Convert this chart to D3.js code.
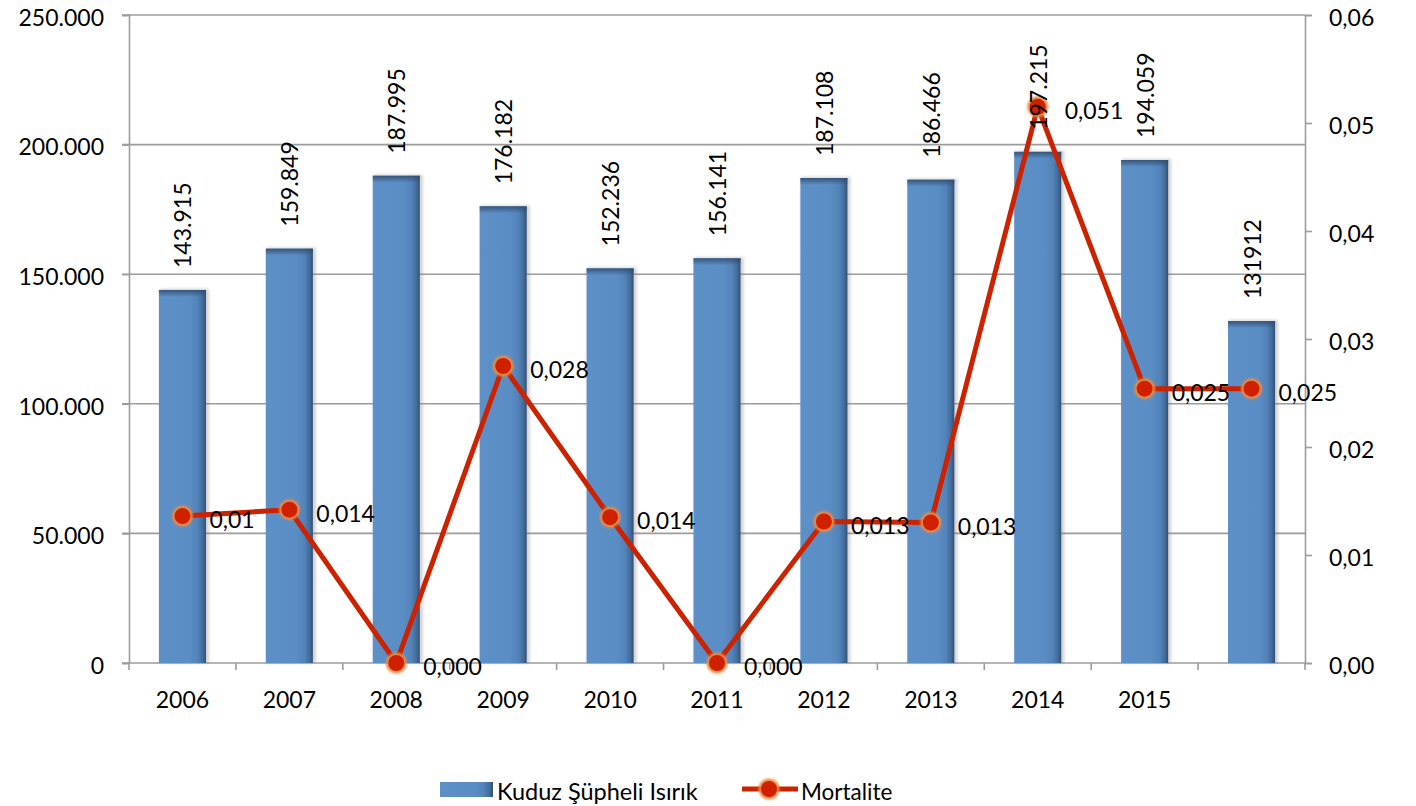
<!DOCTYPE html>
<html><head><meta charset="utf-8">
<script src="https://cdn.jsdelivr.net/npm/d3@7"></script>
<style>
html,body{margin:0;padding:0;background:#fff;}
svg{display:block;}
text{font-family:Lato,"Open Sans",sans-serif;fill:#000;}
</style></head>
<body>
<svg id="chart" width="1416" height="806"></svg>
<script>
const years = ["2006","2007","2008","2009","2010","2011","2012","2013","2014","2015",""];
const bites = [143915,159849,187995,176182,152236,156141,187108,186466,197215,194059,131912];
const biteLabels = ["143.915","159.849","187.995","176.182","152.236","156.141","187.108","186.466","197.215","194.059","131912"];
const mortality = [0.0136,0.0142,0,0.0275,0.0135,0,0.0131,0.0130,0.0515,0.0254,0.0254];
const mortLabels = ["0,01","0,014","0,000","0,028","0,014","0,000","0,013","0,013","0,051","0,025","0,025"];
const leftTicks = [0,50000,100000,150000,200000,250000];
const leftTickLabels = ["0","50.000","100.000","150.000","200.000","250.000"];
const rightTicks = [0,0.01,0.02,0.03,0.04,0.05,0.06];
const rightTickLabels = ["0,00","0,01","0,02","0,03","0,04","0,05","0,06"];
const seriesNames = ["Kuduz Şüpheli Isırık","Mortalite"];

const svg = d3.select("#chart");
const L = 129, R = 1305, T = 15, B = 663;
const idx = years.map((d,i)=>i);
const x = d3.scaleBand().domain(idx).range([L,R]).paddingInner(0.56).paddingOuter(0.28);
const step = x.step();
const yL = d3.scaleLinear().domain([0,250000]).range([B,T]);
const yR = d3.scaleLinear().domain([0,0.06]).range([B,T]);
const grid = "#9c9c9c";

const defs = svg.append("defs");
const gH = defs.append("linearGradient").attr("id","barH").attr("x1","0").attr("x2","1").attr("y1","0").attr("y2","0");
[["0%","#5d90c7"],["65%","#5b8dc5"],["82%","#5283b9"],["93%","#426c9b"],["100%","#334f72"]].forEach(s=>gH.append("stop").attr("offset",s[0]).attr("stop-color",s[1]));
const gV = defs.append("linearGradient").attr("id","barV").attr("x1","0").attr("x2","0").attr("y1","0").attr("y2","1");
[["0%","#2f4b6d",0.85],["100%","#2f4b6d",0]].forEach(s=>gV.append("stop").attr("offset",s[0]).attr("stop-color",s[1]).attr("stop-opacity",s[2]));
const fGlow = defs.append("filter").attr("id","glow").attr("x","-50%").attr("y","-50%").attr("width","200%").attr("height","200%");
fGlow.append("feGaussianBlur").attr("stdDeviation",1.2);
const fSh = defs.append("filter").attr("id","shadow").attr("x","-20%").attr("y","-5%").attr("width","140%").attr("height","110%");
fSh.append("feGaussianBlur").attr("stdDeviation",1.5);

// gridlines
svg.append("g").selectAll("line").data(leftTicks.filter(d=>d>0)).join("line")
  .attr("x1",L-7).attr("x2",R).attr("y1",d=>yL(d)).attr("y2",d=>yL(d))
  .attr("stroke",grid).attr("stroke-width",1.6);

const FS = "23px";
// left axis
const axL = svg.append("g").attr("transform",`translate(${L},0)`)
  .call(d3.axisLeft(yL).tickValues(leftTicks).tickFormat((d,i)=>leftTickLabels[i]).tickSize(7).tickPadding(18));
// right axis
const axR = svg.append("g").attr("transform",`translate(${R},0)`)
  .call(d3.axisRight(yR).tickValues(rightTicks).tickFormat((d,i)=>rightTickLabels[i]).tickSize(7).tickPadding(17));
// bottom axis
const axB = svg.append("g").attr("transform",`translate(0,${B})`)
  .call(d3.axisBottom(x).tickFormat(i=>years[i]).tickSize(0).tickPadding(36));
axB.select(".domain").attr("d",`M${L-7},0H${R}`);
// category boundary ticks
axB.append("g").selectAll("line").data(d3.range(0,years.length+1)).join("line")
  .attr("x1",i=>L+i*step).attr("x2",i=>L+i*step)
  .attr("y1",0).attr("y2",7).attr("stroke",grid).attr("stroke-width",1.6);

[axL,axR,axB].forEach(a=>{
  a.selectAll(".domain").attr("stroke",grid).attr("stroke-width",1.6);
  a.selectAll(".tick line").attr("stroke",grid).attr("stroke-width",1.6);
  a.selectAll(".tick text").attr("font-family","Lato, sans-serif").attr("font-size",FS).attr("fill","#000");
});
axL.selectAll(".tick text").attr("dy","0.45em");
axR.selectAll(".tick text").attr("dy","0.45em");
axB.selectAll(".tick text").attr("dy","0em").attr("dominant-baseline","central");

// bars
const bars = svg.append("g");
bars.selectAll("rect.sh").data(idx).join("rect").attr("class","sh")
  .attr("x",i=>x(i)+1).attr("y",i=>yL(bites[i])-1).attr("width",x.bandwidth()+2).attr("height",i=>B-yL(bites[i])+1)
  .attr("fill","#7f7f7f").attr("opacity",0.35).attr("filter","url(#shadow)");
bars.selectAll("rect.b").data(idx).join("rect").attr("class","b")
  .attr("x",i=>x(i)).attr("y",i=>yL(bites[i])).attr("width",x.bandwidth()).attr("height",i=>B-yL(bites[i]))
  .attr("fill","url(#barH)");
bars.selectAll("rect.t").data(idx).join("rect").attr("class","t")
  .attr("x",i=>x(i)).attr("y",i=>yL(bites[i])).attr("width",x.bandwidth()).attr("height",7)
  .attr("fill","url(#barV)");

// line
const cx = i=>x(i)+x.bandwidth()/2;
svg.append("path").datum(idx)
  .attr("d",d3.line().x(i=>cx(i)).y(i=>yR(mortality[i])))
  .attr("fill","none").attr("stroke","#cc2200").attr("stroke-width",5).attr("stroke-linejoin","round");
const mk = svg.append("g");
mk.selectAll("circle.o").data(idx).join("circle").attr("class","o")
  .attr("cx",cx).attr("cy",i=>yR(mortality[i])).attr("r",10.5).attr("fill","#ea8a45").attr("filter","url(#glow)");
mk.selectAll("circle.i").data(idx).join("circle").attr("class","i")
  .attr("cx",cx).attr("cy",i=>yR(mortality[i])).attr("r",8).attr("fill","#d02000");

// line labels
svg.append("g").selectAll("text").data(idx).join("text")
  .attr("x",i=>cx(i)+27).attr("y",i=>yR(mortality[i])+3)
  .attr("dominant-baseline","central").attr("font-size",FS).text(i=>mortLabels[i]);

// bar labels
svg.append("g").selectAll("text").data(idx).join("text")
  .attr("transform",i=>`translate(${cx(i)},${yL(bites[i])-22}) rotate(-90)`)
  .attr("dominant-baseline","central").attr("font-size",FS).text(i=>biteLabels[i]);

// legend
const lg = svg.append("g");
lg.append("rect").attr("x",440).attr("y",782).attr("width",53).attr("height",15).attr("fill","url(#barH)");
lg.append("text").attr("x",497).attr("y",791).attr("dominant-baseline","central").attr("font-size","23.5px").text(seriesNames[0]);
lg.append("line").attr("x1",742).attr("x2",798).attr("y1",789).attr("y2",789).attr("stroke","#cc2200").attr("stroke-width",5);
lg.append("circle").attr("cx",769).attr("cy",789).attr("r",10.5).attr("fill","#ea8a45").attr("filter","url(#glow)");
lg.append("circle").attr("cx",769).attr("cy",789).attr("r",8).attr("fill","#d02000");
lg.append("text").attr("x",801).attr("y",791).attr("dominant-baseline","central").attr("font-size","22.5px").text(seriesNames[1]);
</script>
</body></html>
